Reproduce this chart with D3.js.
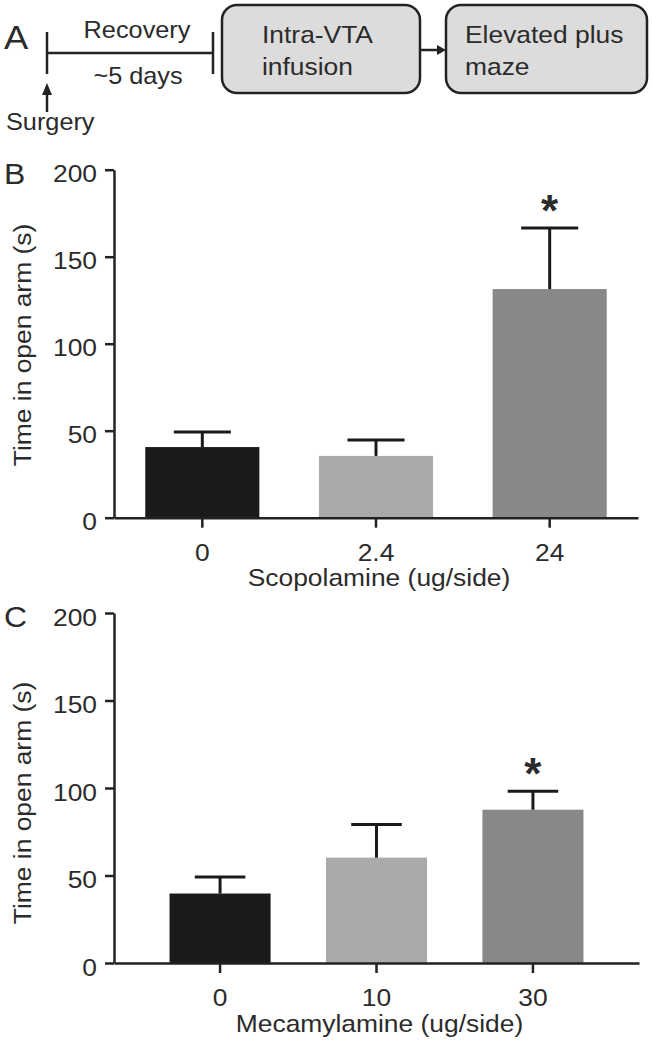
<!DOCTYPE html>
<html>
<head>
<meta charset="utf-8">
<script src="https://cdn.jsdelivr.net/npm/d3@7"></script>
<style>
  body { margin: 0; background: #fff; }
  svg { display: block; font-family: "Liberation Sans", Arial, sans-serif; }
  text { fill: #2b2b2b; }
</style>
</head>
<body>
<script>
// data
const yTicks = [0, 50, 100, 150, 200];

const scopCats = ["0", "2.4", "24"];
const scopMean = [40.6, 35.5, 131.4];
const scopSem = [8.7, 9.2, 35.1];
const scopStar = [false, false, true];

const mecaCats = ["0", "10", "30"];
const mecaMean = [39.7, 60.2, 87.6];
const mecaSem = [9.5, 19.0, 10.6];
const mecaStar = [false, false, true];

const barColors = ["#1b1b1b", "#aaaaaa", "#888888"];

const W = 653, H = 1050;
const SX = 1.1; // the figure's font is wider than Arial
const svg = d3.select("body").append("svg").attr("width", W).attr("height", H);

// text with the wide look of the original
function label(g, x, y, str, size, anchor, rot) {
  return g.append("text")
    .attr("transform", `translate(${x},${y})` + (rot ? ` rotate(${rot})` : "") + ` scale(${SX},1)`)
    .attr("text-anchor", anchor || "start")
    .attr("font-size", size)
    .text(str);
}

// ---------- panel A : timeline ----------
const gA = svg.append("g");
const ink = "#222";
label(gA, 4, 49, "A", 33);

gA.append("line").attr("x1", 47).attr("x2", 47).attr("y1", 32).attr("y2", 74)
  .attr("stroke", ink).attr("stroke-width", 2.5);
gA.append("line").attr("x1", 47).attr("x2", 213).attr("y1", 53).attr("y2", 53)
  .attr("stroke", ink).attr("stroke-width", 2.5);
gA.append("line").attr("x1", 213).attr("x2", 213).attr("y1", 32).attr("y2", 74)
  .attr("stroke", ink).attr("stroke-width", 2.5);
label(gA, 137, 38, "Recovery", 23, "middle");
label(gA, 138, 84, "~5 days", 23, "middle");

// surgery arrow
gA.append("line").attr("x1", 47).attr("x2", 47).attr("y1", 92).attr("y2", 112)
  .attr("stroke", ink).attr("stroke-width", 2.5);
gA.append("path").attr("d", "M47,83 L42,95 L52,95 Z").attr("fill", ink);
label(gA, 6, 130, "Surgery", 23);

const boxes = [
  { x: 222, w: 198, lines: ["Intra-VTA", "infusion"], tx: 262 },
  { x: 446, w: 201, lines: ["Elevated plus", "maze"], tx: 465 }
];
boxes.forEach(b => {
  gA.append("rect").attr("x", b.x).attr("y", 5).attr("width", b.w).attr("height", 88)
    .attr("rx", 15).attr("fill", "#dcdcdc").attr("stroke", ink).attr("stroke-width", 2.5);
  b.lines.forEach((l, i) => label(gA, b.tx, 43 + i * 32, l, 24));
});
gA.append("line").attr("x1", 420).attr("x2", 440).attr("y1", 50).attr("y2", 50)
  .attr("stroke", ink).attr("stroke-width", 2.5);
gA.append("path").attr("d", "M446,50 L437,45 L437,55 Z").attr("fill", ink);

// ---------- bar panels ----------
function barPanel(opt) {
  const g = svg.append("g");
  const y = d3.scaleLinear().domain([0, 200]).range([opt.y0, opt.y1]);
  const x = d3.scaleBand().domain(opt.cats).range([114, opt.xEnd])
    .paddingInner(opt.pin).paddingOuter(opt.pout);
  const rows = opt.cats.map((c, i) => ({ c, m: opt.mean[i], s: opt.sem[i], star: opt.star[i], i }));
  const cx = d => x(d.c) + x.bandwidth() / 2;

  g.selectAll("rect.bar").data(rows).enter().append("rect")
    .attr("class", "bar")
    .attr("x", d => x(d.c)).attr("width", x.bandwidth())
    .attr("y", d => y(d.m)).attr("height", d => y(0) - y(d.m))
    .attr("fill", d => barColors[d.i]);

  const cap = x.bandwidth() * 0.5;
  const eb = g.selectAll("g.err").data(rows).enter().append("g").attr("class", "err")
    .attr("stroke", "#1a1a1a").attr("stroke-width", 3);
  eb.append("line")
    .attr("x1", cx).attr("x2", cx)
    .attr("y1", d => y(d.m)).attr("y2", d => y(d.m + d.s));
  eb.append("line")
    .attr("x1", d => cx(d) - cap / 2).attr("x2", d => cx(d) + cap / 2)
    .attr("y1", d => y(d.m + d.s)).attr("y2", d => y(d.m + d.s));

  g.selectAll("text.star").data(rows.filter(d => d.star)).enter().append("text")
    .attr("class", "star")
    .attr("x", cx)
    .attr("y", d => y(d.m + d.s) - 2)
    .attr("text-anchor", "middle").attr("font-size", 44).attr("font-weight", "bold")
    .attr("fill", "#111")
    .text("*");

  const ya = g.append("g").attr("transform", "translate(114,0)")
    .call(d3.axisLeft(y).tickValues(yTicks).tickSize(9).tickSizeOuter(0).tickPadding(8));
  const xa = g.append("g").attr("transform", `translate(0,${opt.y0})`)
    .call(d3.axisBottom(x).tickSize(10).tickSizeOuter(0).tickPadding(16));
  [ya, xa].forEach(a => {
    a.selectAll("path, line").attr("stroke", "#222").attr("stroke-width", 2.5);
    a.selectAll("text").attr("font-size", 24).attr("fill", "#2b2b2b")
      .attr("font-family", "\"Liberation Sans\", Arial, sans-serif")
      .attr("transform", `scale(${SX},1)`);
  });
  ya.selectAll("text").attr("x", -17 / SX).attr("dy", "0.5em");

  label(g, 4, opt.y1 + 14, opt.letter, 29);
  label(g, 22, opt.labY, "Time in open arm (s)", 24, "middle", -90)
    .attr("dominant-baseline", "central");
  label(g, (114 + opt.xEnd) / 2 + 3, opt.y0 + 68.5, opt.title, 24, "middle");
}

barPanel({ letter: "B", cats: scopCats, mean: scopMean, sem: scopSem, star: scopStar,
  y0: 517.7, y1: 169.7, xEnd: 638, pin: 0.343, pout: 0.18, labY: 345,
  title: "Scopolamine (ug/side)" });
barPanel({ letter: "C", cats: mecaCats, mean: mecaMean, sem: mecaSem, star: mecaStar,
  y0: 963, y1: 613, xEnd: 639, pin: 0.354, pout: 0.355, labY: 803,
  title: "Mecamylamine (ug/side)" });
</script>
</body>
</html>
